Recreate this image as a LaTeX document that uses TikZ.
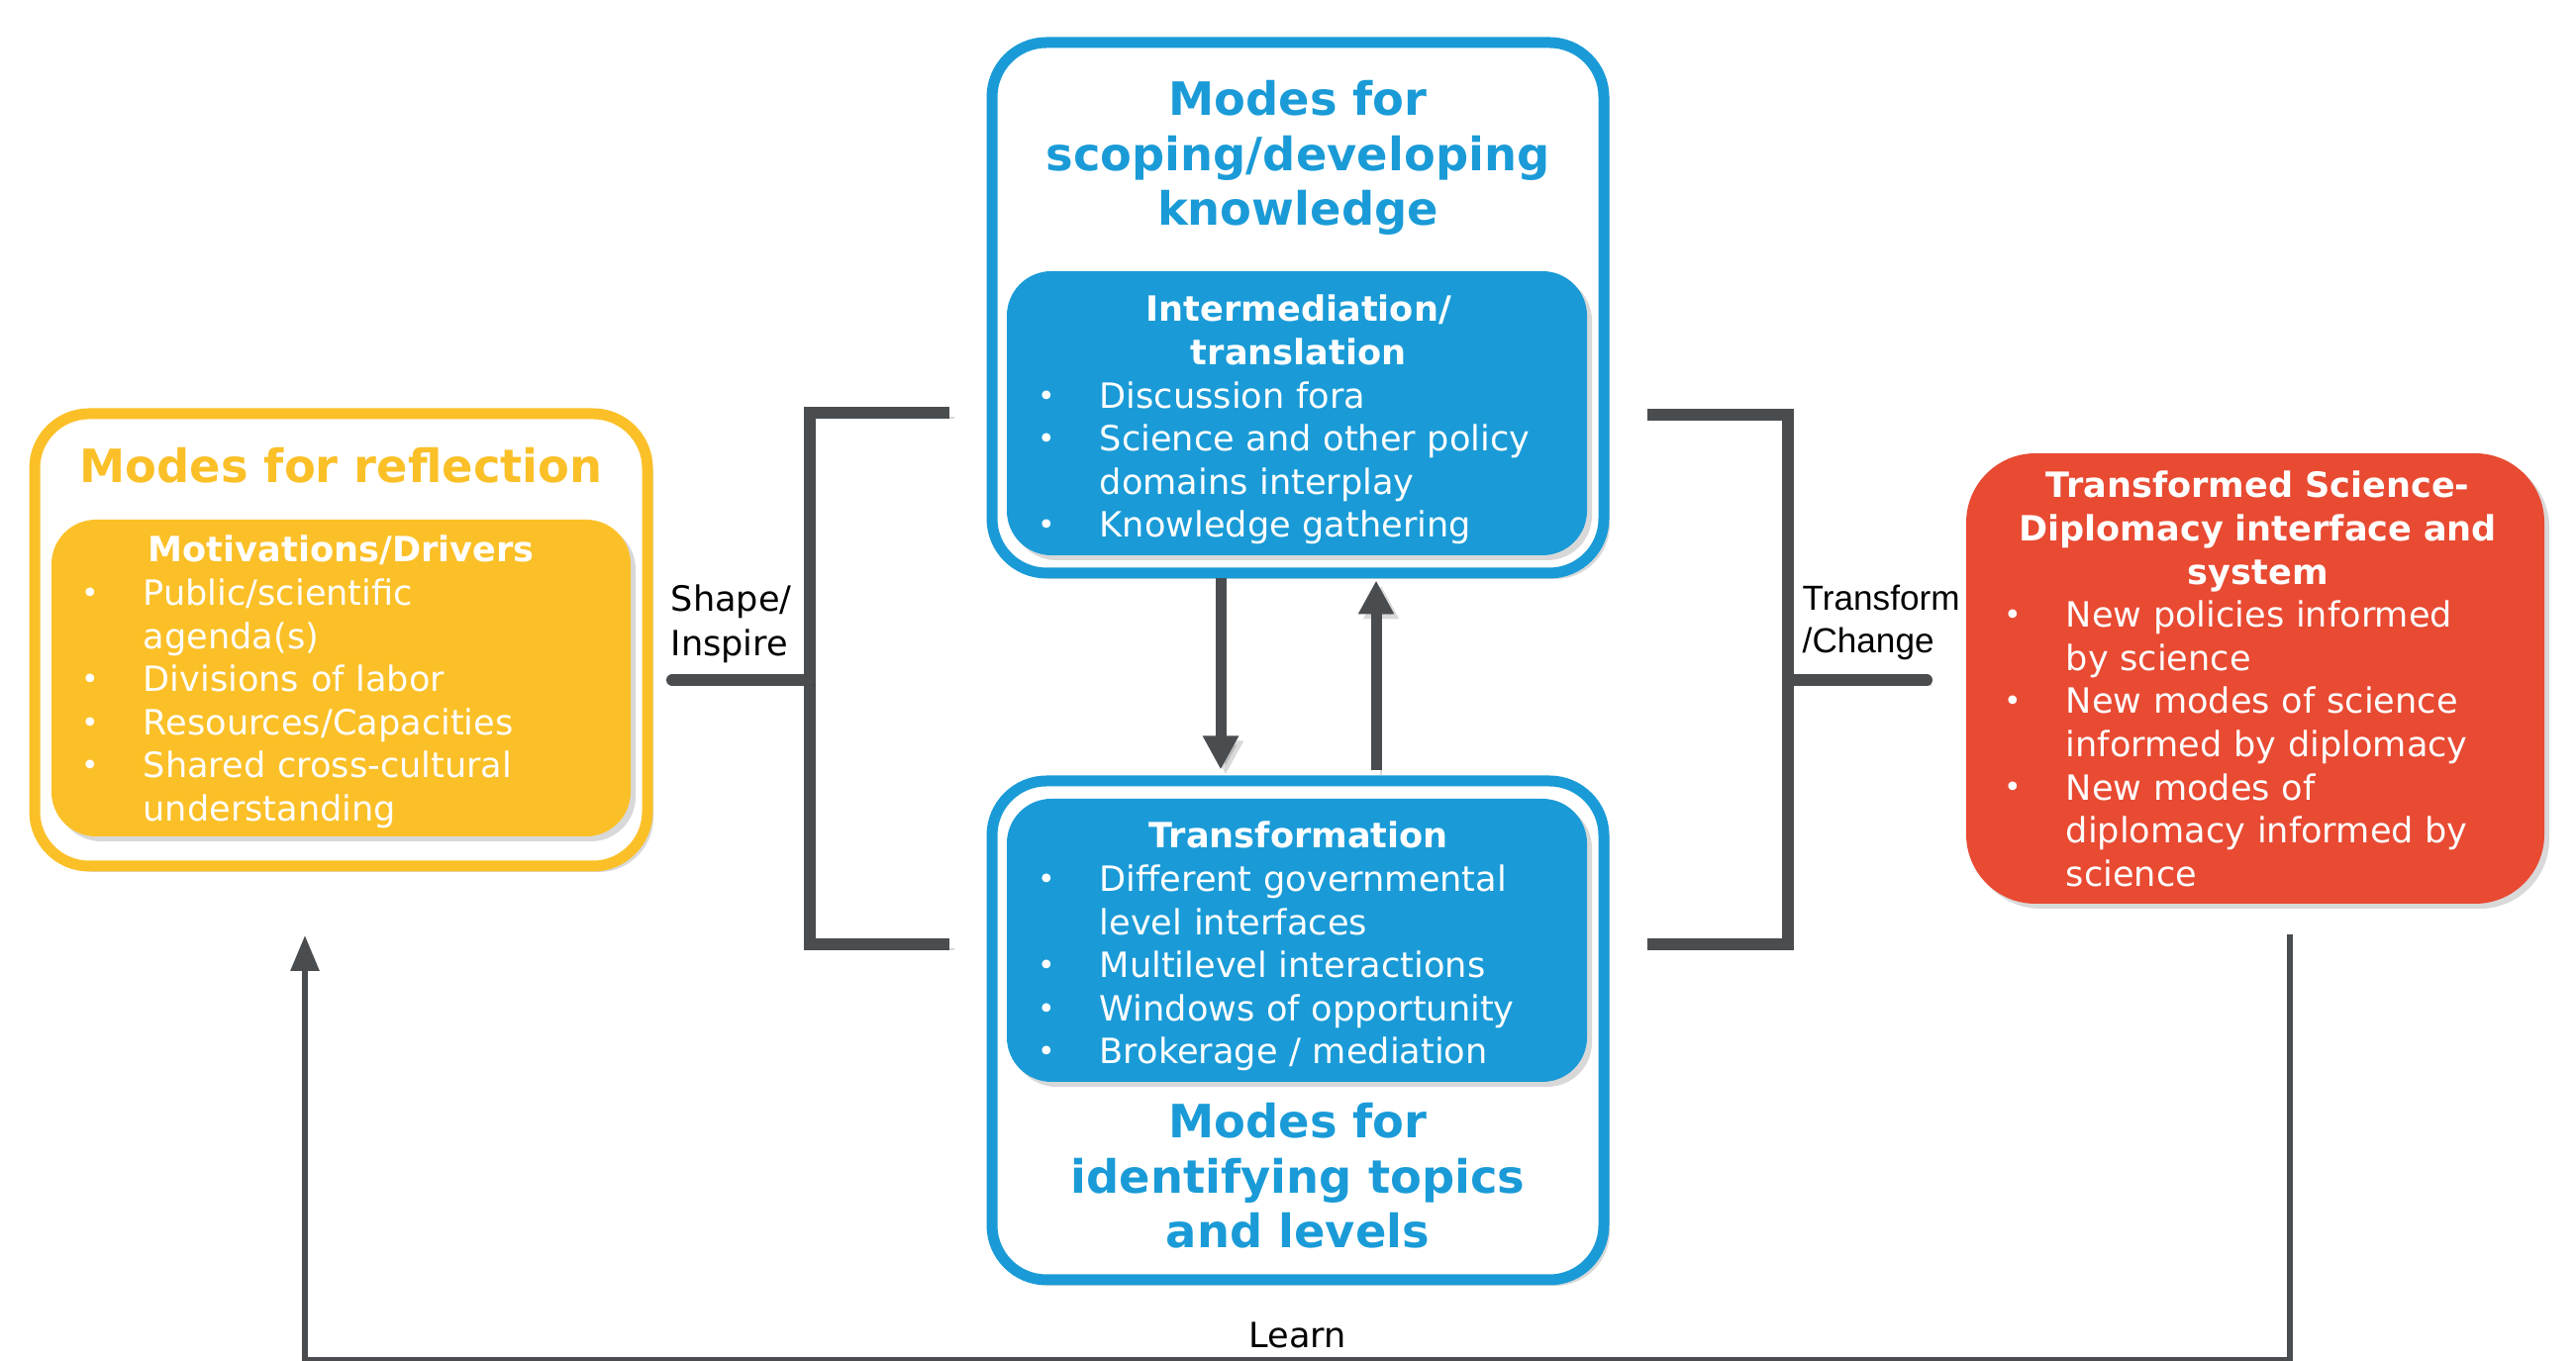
\documentclass[tikz,border=0pt]{standalone}
\usepackage{fontspec}
\setmainfont{DejaVu Sans}
\newfontfamily\arialfont{Liberation Sans}
\usepackage{tikz}
\usetikzlibrary{arrows.meta,shadows}
\definecolor{modeblue}{RGB}{26,155,215}
\definecolor{modeyellow}{RGB}{251,192,40}
\definecolor{modered}{RGB}{232,74,50}
\definecolor{linegray}{RGB}{74,77,80}
\newcommand{\bitem}[1]{\par\hangindent=0.73cm\hangafter=1\noindent\makebox[0.73cm][l]{\makebox[0.4cm]{\raisebox{0.6pt}{\fontsize{8.5}{8.5}\selectfont\textbullet}}}#1\par}
\tikzstyle{outerbox} = [rectangle, rounded corners=0.55cm, line width=0.11cm, fill=white, inner sep=0pt, drop shadow={shadow xshift=0.06cm, shadow yshift=-0.06cm, opacity=0.3}]
\tikzstyle{innerbox} = [rectangle, rounded corners=0.45cm, inner sep=0pt, drop shadow={shadow xshift=0.05cm, shadow yshift=-0.05cm, opacity=0.3}]
\tikzstyle{title} = [font=\fontsize{13.2}{15.8}\selectfont\bfseries, align=center, inner sep=0pt, anchor=base]
\tikzstyle{listtext} = [font=\fontsize{10}{12.4}\selectfont, text=white, align=left, inner sep=0pt, anchor=base west]
\tikzstyle{labeltext} = [font=\fontsize{10}{12.8}\selectfont, align=left, inner sep=0pt, anchor=base west]
\tikzstyle{lineshadow} = [preaction={draw=black, opacity=0.15, transform canvas={xshift=0.05cm, yshift=-0.05cm}}]
\tikzstyle{link} = [line width=0.12cm, draw=linegray, lineshadow]
\tikzstyle{arrow} = [line width=0.11cm, draw=linegray, -{Triangle[width=0.34cm,length=0.34cm]}, lineshadow]
\tikzstyle{loop} = [line width=0.06cm, draw=linegray, -{Triangle[width=0.28cm,length=0.36cm]}]
\begin{document}
\begin{tikzpicture}
    \useasboundingbox (0,0) rectangle (26.02,13.75);

    % boxes
    \node (refl) [outerbox, draw=modeyellow, minimum width=6.19cm, minimum height=4.57cm] at (3.445,7.285) {};
    \node (drivers) [innerbox, fill=modeyellow, minimum width=5.85cm, minimum height=3.20cm] at (3.445,6.90) {};

    \node (topout) [outerbox, draw=modeblue, minimum width=6.18cm, minimum height=5.36cm] at (13.11,10.64) {};
    \node (topin) [innerbox, fill=modeblue, minimum width=5.86cm, minimum height=2.87cm] at (13.10,9.575) {};

    \node (botout) [outerbox, draw=modeblue, minimum width=6.18cm, minimum height=5.04cm] at (13.11,3.34) {};
    \node (botin) [innerbox, fill=modeblue, minimum width=5.86cm, minimum height=2.86cm] at (13.10,4.25) {};

    \node (trans) [innerbox, rounded corners=0.7cm, fill=modered, minimum width=5.84cm, minimum height=4.55cm] at (22.78,6.895) {};

    % titles (placed by the baseline of their last line)
    \node (refltitle) [title, text=modeyellow] at (3.445,8.87) {Modes for reflection};
    \node (toptitle) [title, text=modeblue] at (13.11,11.47) {Modes for\\scoping/developing\\knowledge};
    \node (bottitle) [title, text=modeblue] at (13.11,1.14) {Modes for\\identifying topics\\and levels};

    % lists
    \node (driverstext) [listtext, text width=5.46cm] at (0.71,8.07) {{\centering\bfseries Motivations/Drivers\par}
        \bitem{Public/scientific\newline agenda(s)}
        \bitem{Divisions of labor}
        \bitem{Resources/Capacities}
        \bitem{Shared cross-cultural\newline understanding}};
    \node (toptext) [listtext, text width=5.48cm] at (10.37,10.50) {{\centering\bfseries Intermediation/\\translation\par}
        \bitem{Discussion fora}
        \bitem{Science and other policy\newline domains interplay}
        \bitem{Knowledge gathering}};
    \node (bottext) [listtext, text width=5.48cm] at (10.37,5.18) {{\centering\bfseries Transformation\par}
        \bitem{Different governmental\newline level interfaces}
        \bitem{Multilevel interactions}
        \bitem{Windows of opportunity}
        \bitem{Brokerage / mediation}};
    \node (transtext) [listtext, text width=5.34cm] at (20.13,8.72) {{\centering\bfseries Transformed Science-\\Diplomacy interface and\\system\par}
        \bitem{New policies informed\newline by science}
        \bitem{New modes of science\newline informed by diplomacy}
        \bitem{New modes of\newline diplomacy informed by\newline science}};

    % labels
    \node (shape) [labeltext] at (6.77,7.12) {Shape/\\Inspire};
    \node (change) [labeltext, font=\arialfont\fontsize{10}{12.3}\selectfont] at (18.20,7.15) {Transform\\/Change};

    % brackets
    \coordinate (lbtop) at (9.59,9.58);
    \coordinate (lbmid) at (8.18,6.88);
    \coordinate (lbbot) at (9.59,4.21);
    \coordinate (lbend) at (6.79,6.88);
    \draw[link] (lbtop) -| (lbmid) |- (lbbot);
    \draw[link, line cap=round] (lbmid) -- (lbend);

    \coordinate (rbtop) at (16.64,9.56);
    \coordinate (rbmid) at (18.06,6.88);
    \coordinate (rbbot) at (16.64,4.21);
    \coordinate (rbend) at (19.46,6.88);
    \draw[link] (rbtop) -| (rbmid) |- (rbbot);
    \draw[link, line cap=round] (rbmid) -- (rbend);

    % arrows between the two blue boxes
    \draw[arrow] ([xshift=-0.78cm]topout.south) -- ([xshift=-0.78cm,yshift=0.06cm]botout.north);
    \draw[arrow] ([xshift=0.79cm,yshift=0.05cm]botout.north) -- ([xshift=0.79cm,yshift=-0.02cm]topout.south);

    % learn loop
    \draw[loop] ([xshift=0.35cm,yshift=-0.30cm]trans.south) -- ++(0,-4.30) -| node[pos=0.25, anchor=base, yshift=0.12cm, inner sep=0pt, font=\fontsize{10}{12}\selectfont] (learn) {Learn} ([xshift=-0.365cm,yshift=-0.645cm]refl.south);

\end{tikzpicture}
\end{document}
